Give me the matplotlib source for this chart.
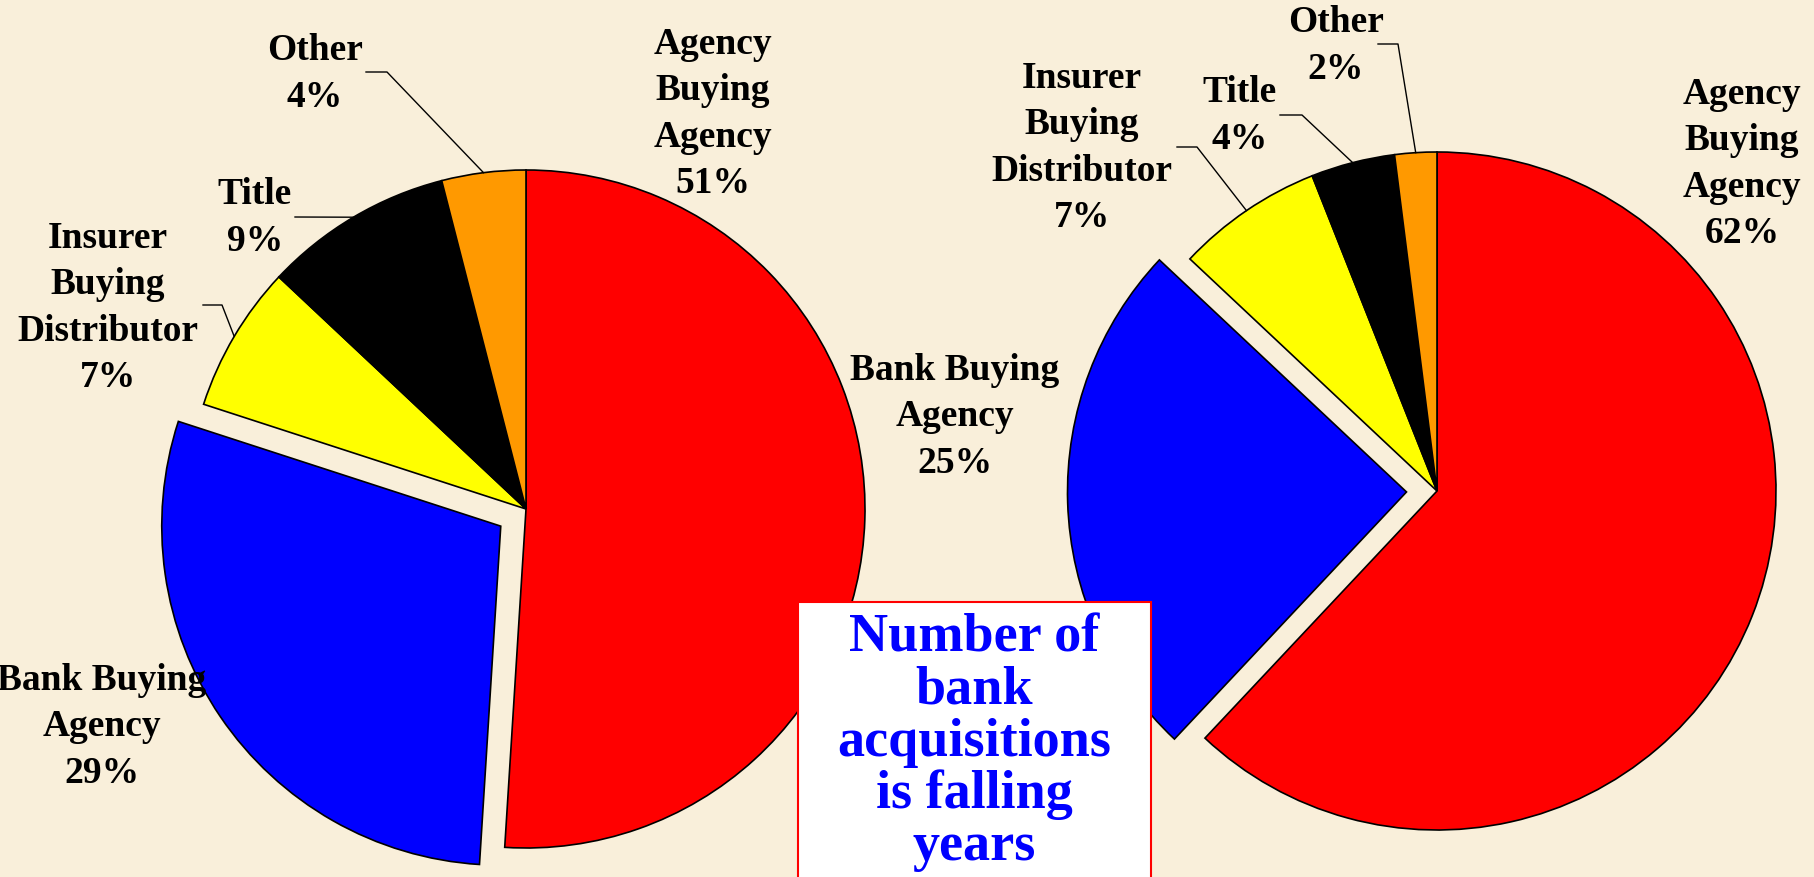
import numpy as np
import matplotlib.pyplot as plt
from matplotlib.patches import Rectangle

W, H = 1814, 877
BG = "#F9EFDA"
FONT = ["Liberation Serif", "DejaVu Serif"]

# data
categories = ["Agency\nBuying\nAgency", "Bank Buying\nAgency",
              "Insurer\nBuying\nDistributor", "Title", "Other"]
colors = ["#FF0000", "#0000FF", "#FFFF00", "#000000", "#FF9900"]
left_values = [51, 29, 7, 9, 4]
right_values = [62, 25, 7, 4, 2]
explode = [0, 0.09, 0, 0, 0]
box_text = "Number of\nbank\nacquisitions\nis falling\nyears"

# layout, pixel coords measured from the top-left corner
left_center = (526, 509)
right_center = (1437, 491)
radius = 339
left_label_pos = [(713, 114), (102, 727), (108, 308), (255, 218), (315, 74)]
right_label_pos = [(1742, 164), (955, 417), (1082, 148), (1240, 116), (1336, 46)]
# leader lines (start point, elbow) -> they end on the wedge edge
left_leaders = {2: [(203, 305), (222, 305)], 3: [(295, 217)], 4: [(366, 72), (387, 72)]}
right_leaders = {2: [(1177, 147), (1197, 147)], 3: [(1280, 115), (1302, 115)],
                 4: [(1378, 44), (1398, 44)]}


def up(p):
    return (p[0], H - p[1])


fig = plt.figure(figsize=(W / 100, H / 100), dpi=100, facecolor=BG)
ax = fig.add_axes([0, 0, 1, 1])


def draw_pie(values, center, label_pos, leaders):
    # pie's explode is an absolute offset, so scale it by the radius
    wedges, _ = ax.pie(values, colors=colors, startangle=90, counterclock=False,
                       explode=[e * radius for e in explode], center=up(center),
                       radius=radius,
                       wedgeprops=dict(edgecolor="black", linewidth=1.2))
    for name, v, pos in zip(categories, values, label_pos):
        x, y = up(pos)
        ax.text(x, y, f"{name}\n{v}%", ha="center", va="center",
                multialignment="center", fontsize=27, fontweight="bold",
                family=FONT, linespacing=1.42, color="black")
    for i, pts in leaders.items():
        w = wedges[i]
        mid = np.deg2rad((w.theta1 + w.theta2) / 2)
        ex = w.center[0] + w.r * np.cos(mid)
        ey = w.center[1] + w.r * np.sin(mid)
        xs = [p[0] for p in pts] + [ex]
        ys = [H - p[1] for p in pts] + [ey]
        ax.plot(xs, ys, color="black", lw=1)


draw_pie(left_values, left_center, left_label_pos, left_leaders)
draw_pie(right_values, right_center, right_label_pos, right_leaders)

# text box
ax.add_patch(Rectangle((798, -10), 1151 - 798, H - 602 + 10, facecolor="white",
                       edgecolor="#FF0000", lw=1.5, zorder=5))
ax.text(974, H - 743, box_text, ha="center", va="center", multialignment="center",
        fontsize=39, fontweight="bold", family=FONT, color="#0000FF",
        linespacing=1.05, zorder=6)

ax.set_xlim(0, W)
ax.set_ylim(0, H)
ax.axis("off")

fig.savefig("out.png", dpi=100, facecolor=BG)
